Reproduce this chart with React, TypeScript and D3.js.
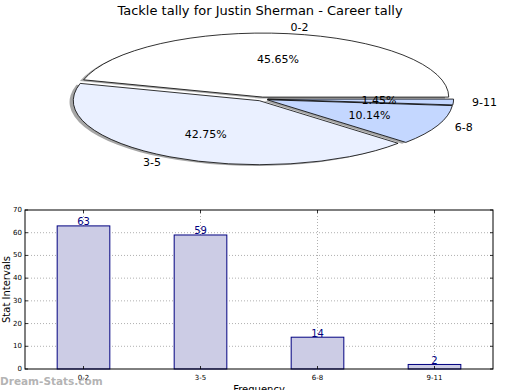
import React from "react";
import * as d3 from "d3";

const categories = ["0-2", "3-5", "6-8", "9-11"];
const values = [63, 59, 14, 2];
const pctLabels = ["45.65%", "42.75%", "10.14%", "1.45%"];
const sliceColors = ["#ffffff", "#eaf0ff", "#c4d7ff", "#c4d7ff"];
const yTicks = [0, 10, 20, 30, 40, 50, 60, 70];

const W = 520, H = 390;
const font = "DejaVu Sans, sans-serif";

export default function App() {
  // Pie geometry (elliptical, matplotlib-style)
  const cx = 262, cy = 99, rx = 186, ry = 64;
  const explode = 0.03;
  const pie = d3.pie<number>().sort(null).value((d) => d)
    .startAngle(Math.PI / 2).endAngle(Math.PI / 2 - 2 * Math.PI);
  const arcs = pie(values);
  const arcGen = d3.arc<d3.PieArcDatum<number>>().innerRadius(0).outerRadius(1);

  const slices = arcs.map((a, i) => {
    const m = (a.startAngle + a.endAngle) / 2;
    const ux = Math.sin(m), uy = -Math.cos(m);
    const ox = cx + explode * rx * ux;
    const oy = cy + explode * ry * uy;
    return { a, i, ux, uy, ox, oy, path: arcGen(a) as string };
  });

  // Bar chart
  const left = 25, right = 493, top = 210, bottom = 369;
  const x = d3.scaleBand().domain(categories).range([left, right]).paddingInner(0).paddingOuter(0);
  const y = d3.scaleLinear().domain([0, 70]).range([bottom, top]);
  const bw = x.bandwidth() * 0.45;

  return (
    <svg width={W} height={H} style={{ position: "absolute", left: 0, top: 0, background: "#fff" }}>
      <text x={260} y={15} textAnchor="middle" fontFamily={font} fontSize={13}>
        Tackle tally for Justin Sherman - Career tally
      </text>

      {/* shadows */}
      {slices.map((s) => (
        <path key={"sh" + s.i} d={s.path}
          transform={`translate(${s.ox - 0.02 * rx},${s.oy + 0.02 * ry}) scale(${rx},${ry})`}
          fill="#4d4d4d" fillOpacity={0.5} stroke="none" />
      ))}
      {slices.map((s) => (
        <path key={"sl" + s.i} d={s.path}
          transform={`translate(${s.ox},${s.oy}) scale(${rx},${ry})`}
          fill={sliceColors[s.i]} stroke="#000" strokeWidth={0.8}
          vectorEffect="non-scaling-stroke" strokeLinejoin="round" />
      ))}
      {slices.map((s) => (
        <text key={"lb" + s.i}
          x={s.ox + 1.1 * rx * s.ux} y={s.oy + 1.1 * ry * s.uy}
          textAnchor={s.ux >= 0 ? "start" : "end"} dominantBaseline="central"
          fontFamily={font} fontSize={11}>{categories[s.i]}</text>
      ))}
      {slices.map((s) => (
        <text key={"pc" + s.i}
          x={s.ox + 0.6 * rx * s.ux} y={s.oy + 0.6 * ry * s.uy}
          textAnchor="middle" dominantBaseline="central"
          fontFamily={font} fontSize={11}>{pctLabels[s.i]}</text>
      ))}

      {/* bar chart grid */}
      {yTicks.slice(1, -1).map((t) => (
        <line key={"gy" + t} x1={left} x2={right} y1={y(t)} y2={y(t)}
          stroke="#b0b0b0" strokeWidth={1} strokeDasharray="1,2" />
      ))}
      {categories.map((c) => {
        const xc = (x(c) as number) + x.bandwidth() / 2;
        return (
          <line key={"gx" + c} x1={xc} x2={xc} y1={top} y2={bottom}
            stroke="#b0b0b0" strokeWidth={1} strokeDasharray="1,2" />
        );
      })}

      {/* bars */}
      {categories.map((c, i) => {
        const xc = (x(c) as number) + x.bandwidth() / 2;
        return (
          <g key={"b" + c}>
            <rect x={xc - bw / 2} y={y(values[i])} width={bw} height={bottom - y(values[i])}
              fill="#ccccE5" stroke="#000080" strokeWidth={1} />
            <text x={xc} y={y(values[i]) - 0.5} textAnchor="middle" fontFamily={font}
              fontSize={10} fill="#000080">{values[i]}</text>
          </g>
        );
      })}

      {/* frame */}
      <rect x={left} y={top} width={right - left} height={bottom - top} fill="none" stroke="#000" strokeWidth={1} />

      {/* y ticks */}
      {yTicks.map((t) => (
        <g key={"yt" + t}>
          <line x1={left} x2={left + 3} y1={y(t)} y2={y(t)} stroke="#000" strokeWidth={0.8} />
          <line x1={right - 3} x2={right} y1={y(t)} y2={y(t)} stroke="#000" strokeWidth={0.8} />
          <text x={left - 3} y={y(t)} textAnchor="end" dominantBaseline="central"
            fontFamily={font} fontSize={7}>{t}</text>
        </g>
      ))}
      {categories.map((c) => {
        const xc = (x(c) as number) + x.bandwidth() / 2;
        return (
          <g key={"xt" + c}>
            <line x1={xc} x2={xc} y1={bottom} y2={bottom - 3} stroke="#000" strokeWidth={0.8} />
            <line x1={xc} x2={xc} y1={top} y2={top + 3} stroke="#000" strokeWidth={0.8} />
            <text x={xc} y={bottom + 11} textAnchor="middle" fontFamily={font} fontSize={7}>{c}</text>
          </g>
        );
      })}

      <text transform={`translate(6,${(top + bottom) / 2}) rotate(-90)`} textAnchor="middle"
        dominantBaseline="central" fontFamily={font} fontSize={10}>Stat Intervals</text>
      <text x={(left + right) / 2} y={393} textAnchor="middle" fontFamily={font} fontSize={10}>Frequency</text>

      <text x={0} y={385} fontFamily={font} fontSize={10.5} fontWeight="bold" fill="#aaa" fillOpacity={0.9}>
        Dream-Stats.com
      </text>
    </svg>
  );
}
